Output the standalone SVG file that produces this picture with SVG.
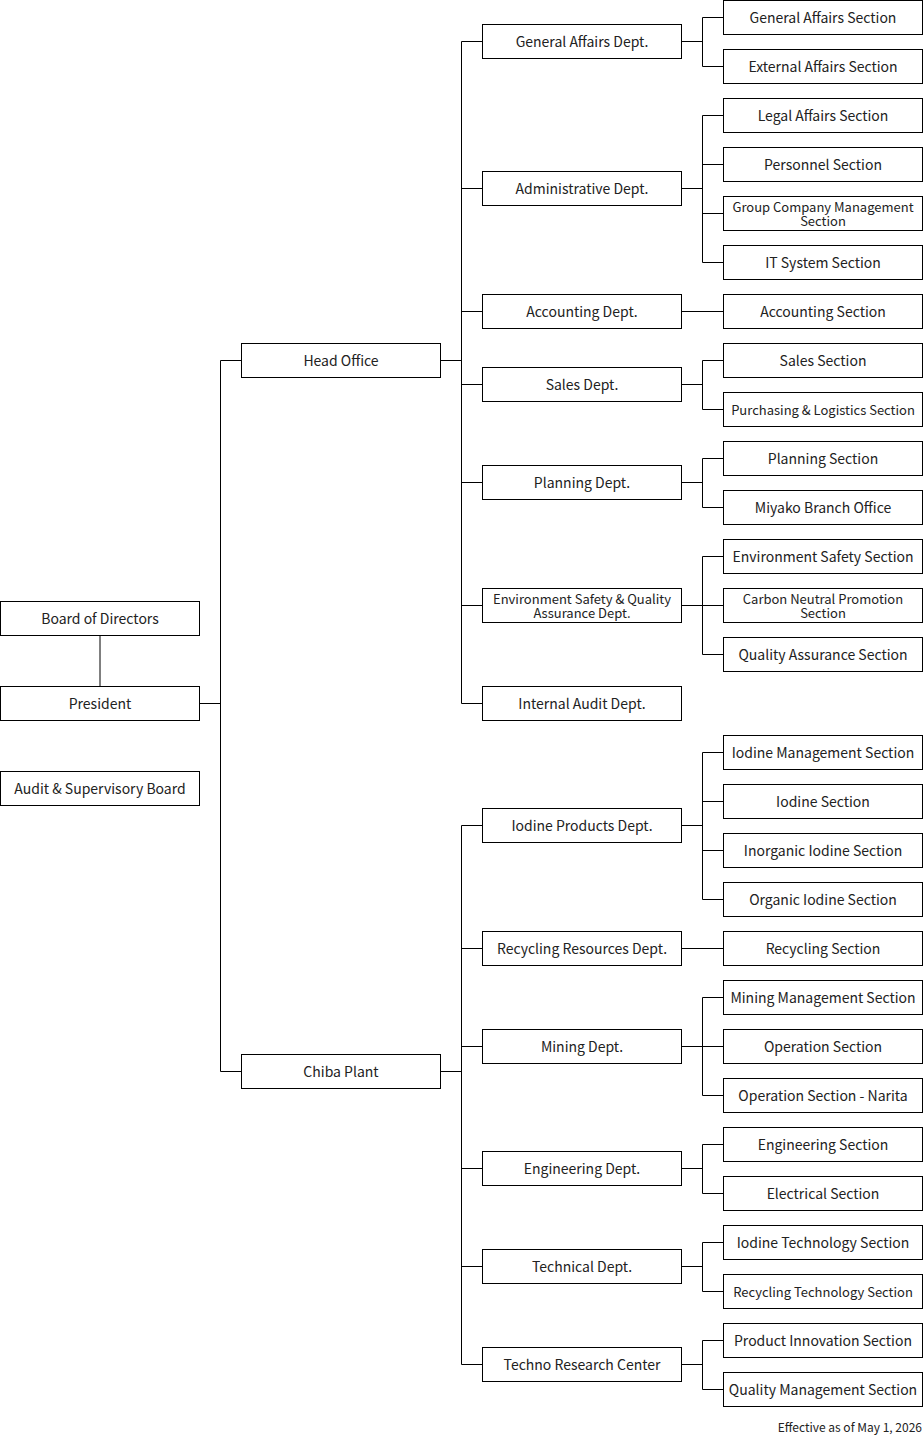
<svg xmlns="http://www.w3.org/2000/svg" width="923" height="1436" viewBox="0 0 923 1436">
<style>
rect{fill:#fff;stroke:#000;stroke-width:1}
text{font-family:"Noto Sans CJK JP","Noto Sans",sans-serif;font-size:14px;fill:#222;text-anchor:middle}
.s{font-size:13px}
.t{font-size:13px}
.f{font-size:12px;text-anchor:end}
#connectors path{fill:none;stroke:#000;stroke-width:1}
</style>
<rect x="0" y="0" width="923" height="1436" style="stroke:none"/>
<g id="connectors">
<path d="M100,635.5V686.5"/>
<path d="M199.5,703.5H220.5M220.5,360.5V1071.5M220.5,360.5H241.5M220.5,1071.5H241.5"/>
<path d="M440.5,360.5H461.5M461.5,41.5V703.5M461.5,41.5H482.5M461.5,188.5H482.5M461.5,311.5H482.5M461.5,384.5H482.5M461.5,482.5H482.5M461.5,605.5H482.5M461.5,703.5H482.5"/>
<path d="M440.5,1071.5H461.5M461.5,825.5V1364.5M461.5,825.5H482.5M461.5,948.5H482.5M461.5,1046.5H482.5M461.5,1168.5H482.5M461.5,1266.5H482.5M461.5,1364.5H482.5"/>
<path d="M681.5,41.5H702.5M702.5,17.5V66.5M702.5,17.5H723.5M702.5,66.5H723.5"/>
<path d="M681.5,188.5H702.5M702.5,115.5V262.5M702.5,115.5H723.5M702.5,164.5H723.5M702.5,213.5H723.5M702.5,262.5H723.5"/>
<path d="M681.5,311.5H723.5"/>
<path d="M681.5,384.5H702.5M702.5,360.5V409.5M702.5,360.5H723.5M702.5,409.5H723.5"/>
<path d="M681.5,482.5H702.5M702.5,458.5V507.5M702.5,458.5H723.5M702.5,507.5H723.5"/>
<path d="M681.5,605.5H702.5M702.5,556.5V654.5M702.5,556.5H723.5M702.5,605.5H723.5M702.5,654.5H723.5"/>
<path d="M681.5,825.5H702.5M702.5,752.5V899.5M702.5,752.5H723.5M702.5,801.5H723.5M702.5,850.5H723.5M702.5,899.5H723.5"/>
<path d="M681.5,948.5H723.5"/>
<path d="M681.5,1046.5H702.5M702.5,997.5V1095.5M702.5,997.5H723.5M702.5,1046.5H723.5M702.5,1095.5H723.5"/>
<path d="M681.5,1168.5H702.5M702.5,1144.5V1193.5M702.5,1144.5H723.5M702.5,1193.5H723.5"/>
<path d="M681.5,1266.5H702.5M702.5,1242.5V1291.5M702.5,1242.5H723.5M702.5,1291.5H723.5"/>
<path d="M681.5,1364.5H702.5M702.5,1340.5V1389.5M702.5,1340.5H723.5M702.5,1389.5H723.5"/>
</g>
<g id="board"><rect x="0.5" y="601.5" width="199" height="34"/><text x="100" y="623.5">Board of Directors</text></g>
<g id="president"><rect x="0.5" y="686.5" width="199" height="34"/><text x="100" y="708.5">President</text></g>
<g id="audit-board"><rect x="0.5" y="771.5" width="199" height="34"/><text x="100" y="793.5">Audit &amp; Supervisory Board</text></g>
<g id="head-office"><rect x="241.5" y="343.5" width="199" height="34"/><text x="341" y="365.5">Head Office</text></g>
<g id="chiba-plant"><rect x="241.5" y="1054.5" width="199" height="34"/><text x="341" y="1076.5">Chiba Plant</text></g>
<g id="d-general"><rect x="482.5" y="24.5" width="199" height="34"/><text x="582" y="46.5">General Affairs Dept.</text></g>
<g id="d-admin"><rect x="482.5" y="171.5" width="199" height="34"/><text x="582" y="193.5">Administrative Dept.</text></g>
<g id="d-accounting"><rect x="482.5" y="294.5" width="199" height="34"/><text x="582" y="316.5">Accounting Dept.</text></g>
<g id="d-sales"><rect x="482.5" y="367.5" width="199" height="34"/><text x="582" y="389.5">Sales Dept.</text></g>
<g id="d-planning"><rect x="482.5" y="465.5" width="199" height="34"/><text x="582" y="487.5">Planning Dept.</text></g>
<g id="d-env"><rect x="482.5" y="588.5" width="199" height="34"/><text class="t" x="582" y="603.5"><tspan x="582">Environment Safety &amp; Quality</tspan><tspan x="582" dy="14">Assurance Dept.</tspan></text></g>
<g id="d-internal"><rect x="482.5" y="686.5" width="199" height="34"/><text x="582" y="708.5">Internal Audit Dept.</text></g>
<g id="d-iodine"><rect x="482.5" y="808.5" width="199" height="34"/><text x="582" y="830.5">Iodine Products Dept.</text></g>
<g id="d-recycling"><rect x="482.5" y="931.5" width="199" height="34"/><text x="582" y="953.5">Recycling Resources Dept.</text></g>
<g id="d-mining"><rect x="482.5" y="1029.5" width="199" height="34"/><text x="582" y="1051.5">Mining Dept.</text></g>
<g id="d-engineering"><rect x="482.5" y="1151.5" width="199" height="34"/><text x="582" y="1173.5">Engineering Dept.</text></g>
<g id="d-technical"><rect x="482.5" y="1249.5" width="199" height="34"/><text x="582" y="1271.5">Technical Dept.</text></g>
<g id="d-techno"><rect x="482.5" y="1347.5" width="199" height="34"/><text x="582" y="1369.5">Techno Research Center</text></g>
<g id="s0"><rect x="723.5" y="0.5" width="199" height="34"/><text x="823" y="22.5">General Affairs Section</text></g>
<g id="s1"><rect x="723.5" y="49.5" width="199" height="34"/><text x="823" y="71.5">External Affairs Section</text></g>
<g id="s2"><rect x="723.5" y="98.5" width="199" height="34"/><text x="823" y="120.5">Legal Affairs Section</text></g>
<g id="s3"><rect x="723.5" y="147.5" width="199" height="34"/><text x="823" y="169.5">Personnel Section</text></g>
<g id="s4"><rect x="723.5" y="196.5" width="199" height="34"/><text class="t" x="823" y="211.5"><tspan x="823">Group Company Management</tspan><tspan x="823" dy="14">Section</tspan></text></g>
<g id="s5"><rect x="723.5" y="245.5" width="199" height="34"/><text x="823" y="267.5">IT System Section</text></g>
<g id="s6"><rect x="723.5" y="294.5" width="199" height="34"/><text x="823" y="316.5">Accounting Section</text></g>
<g id="s7"><rect x="723.5" y="343.5" width="199" height="34"/><text x="823" y="365.5">Sales Section</text></g>
<g id="s8"><rect x="723.5" y="392.5" width="199" height="34"/><text class="s" x="823" y="414.5">Purchasing &amp; Logistics Section</text></g>
<g id="s9"><rect x="723.5" y="441.5" width="199" height="34"/><text x="823" y="463.5">Planning Section</text></g>
<g id="s10"><rect x="723.5" y="490.5" width="199" height="34"/><text x="823" y="512.5">Miyako Branch Office</text></g>
<g id="s11"><rect x="723.5" y="539.5" width="199" height="34"/><text x="823" y="561.5">Environment Safety Section</text></g>
<g id="s12"><rect x="723.5" y="588.5" width="199" height="34"/><text class="t" x="823" y="603.5"><tspan x="823">Carbon Neutral Promotion</tspan><tspan x="823" dy="14">Section</tspan></text></g>
<g id="s13"><rect x="723.5" y="637.5" width="199" height="34"/><text x="823" y="659.5">Quality Assurance Section</text></g>
<g id="s15"><rect x="723.5" y="735.5" width="199" height="34"/><text x="823" y="757.5">Iodine Management Section</text></g>
<g id="s16"><rect x="723.5" y="784.5" width="199" height="34"/><text x="823" y="806.5">Iodine Section</text></g>
<g id="s17"><rect x="723.5" y="833.5" width="199" height="34"/><text x="823" y="855.5">Inorganic Iodine Section</text></g>
<g id="s18"><rect x="723.5" y="882.5" width="199" height="34"/><text x="823" y="904.5">Organic Iodine Section</text></g>
<g id="s19"><rect x="723.5" y="931.5" width="199" height="34"/><text x="823" y="953.5">Recycling Section</text></g>
<g id="s20"><rect x="723.5" y="980.5" width="199" height="34"/><text x="823" y="1002.5">Mining Management Section</text></g>
<g id="s21"><rect x="723.5" y="1029.5" width="199" height="34"/><text x="823" y="1051.5">Operation Section</text></g>
<g id="s22"><rect x="723.5" y="1078.5" width="199" height="34"/><text x="823" y="1100.5">Operation Section - Narita</text></g>
<g id="s23"><rect x="723.5" y="1127.5" width="199" height="34"/><text x="823" y="1149.5">Engineering Section</text></g>
<g id="s24"><rect x="723.5" y="1176.5" width="199" height="34"/><text x="823" y="1198.5">Electrical Section</text></g>
<g id="s25"><rect x="723.5" y="1225.5" width="199" height="34"/><text x="823" y="1247.5">Iodine Technology Section</text></g>
<g id="s26"><rect x="723.5" y="1274.5" width="199" height="34"/><text class="s" x="823" y="1296.5">Recycling Technology Section</text></g>
<g id="s27"><rect x="723.5" y="1323.5" width="199" height="34"/><text x="823" y="1345.5">Product Innovation Section</text></g>
<g id="s28"><rect x="723.5" y="1372.5" width="199" height="34"/><text x="823" y="1394.5">Quality Management Section</text></g>
<text class="f" x="922" y="1432">Effective as of May 1, 2026</text>
</svg>
